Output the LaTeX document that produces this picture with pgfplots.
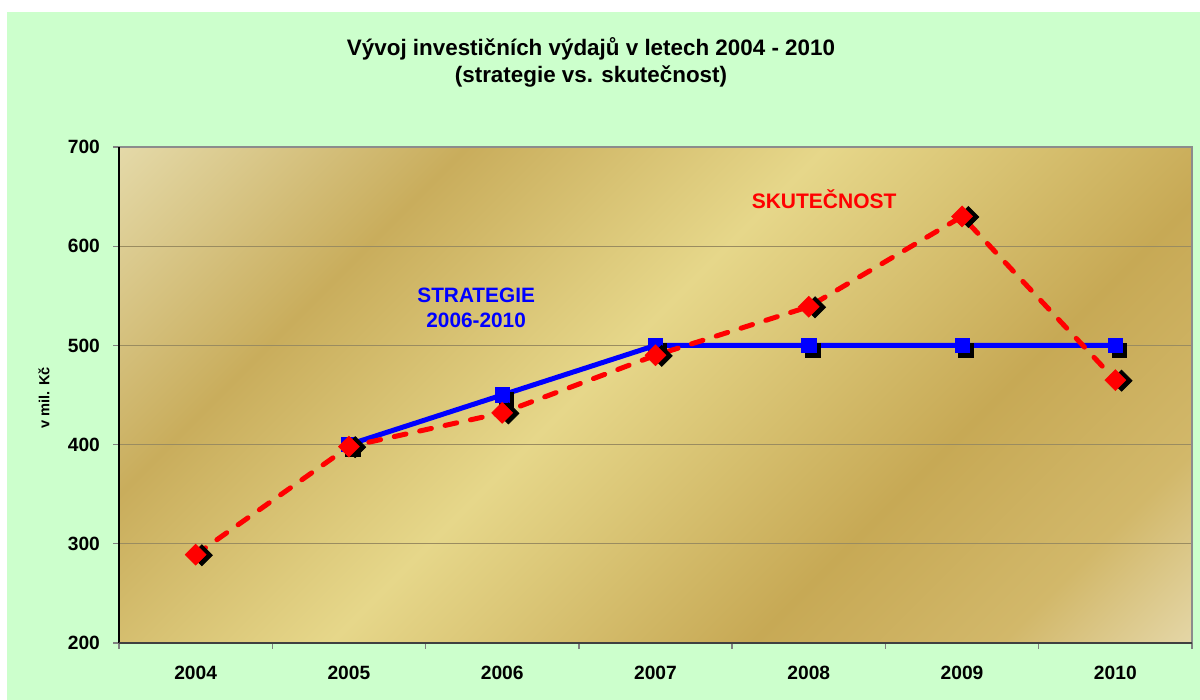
\documentclass[border=0pt]{standalone}
\usepackage{pgfplots}
\pgfplotsset{compat=1.18}
\usepackage{fontspec}
\setmainfont{Liberation Sans}
\definecolor{bggreen}{HTML}{CCFFCC}
\definecolor{gA}{HTML}{E4D9A8}
\definecolor{gB}{HTML}{C9AD5C}
\definecolor{gC}{HTML}{E6D78A}
\definecolor{gD}{HTML}{C7A955}
\definecolor{gE}{HTML}{D2B86A}
\definecolor{gF}{HTML}{E4D6A6}
\definecolor{gridc}{HTML}{9A8C60}
\pgfdeclarehorizontalshading{goldband}{100bp}{color(0bp)=(gA); color(14.6bp)=(gA); color(30.2bp)=(gB); color(46.5bp)=(gC); color(65.6bp)=(gD); color(76.9bp)=(gE); color(85.4bp)=(gF); color(100bp)=(gF)}

\pgfplotstableread{
x y
1 400
2 450
3 500
4 500
5 500
6 500
}\strategie
\pgfplotstableread{
x y
0 289
1 398
2 432
3 490
4 539
5 630
6 465
}\skutecnost

\begin{document}
\begin{tikzpicture}[x=0.5pt,y=0.5pt]
\fill[white] (0,0) rectangle (1200,700);
\fill[bggreen] (7,0) rectangle (1200,688);
\node[font=\fontsize{11.2}{13.5}\selectfont\bfseries, align=center] at (591,638) {Vývoj investičních výdajů v letech 2004 - 2010\\(strategie vs. skutečnost)};
\node[font=\fontsize{7.3}{9}\selectfont\bfseries, rotate=90] at (44,302) {v mil. Kč};
\begin{axis}[
  at={(59.5pt,28.5pt)}, anchor=south west,
  scale only axis, width=536.5pt, height=248pt,
  xmin=-0.5, xmax=6.5, ymin=200, ymax=700,
  xtick={0,...,6},
  xticklabels={2004,2005,2006,2007,2008,2009,2010},
  ytick={200,300,...,700},
  xtick pos=bottom, ytick pos=left,
  ymajorgrids,
  grid style={draw=gridc, line width=0.7pt},
  tick align=outside,
  major tick length=3pt,
  xtick style={draw=none},
  ytick style={draw=gray, line width=0.7pt},
  extra x ticks={-0.5,0.5,...,6.5},
  extra x tick labels={},
  extra x tick style={xtick style={draw=gray, line width=0.7pt}, grid=none},
  axis line style={draw=gray!90, line width=0.8pt},
  axis background/.style={shade, shading=goldband, shading angle=-45},
  /pgf/number format/assume math mode=true,
  ticklabel style={font=\fontsize{9.6}{11}\selectfont\bfseries},
  yticklabel style={xshift=-3pt},
  xticklabel style={yshift=-5pt},
  clip=false,
]
% strategie shadows
\addplot[only marks, mark=square*, mark size=3.6pt, black,
  every mark/.append style={xshift=2pt, yshift=-2.4pt}] table[x=x,y=y] {\strategie};
\addplot[blue, line width=2.5pt, mark=square*, mark size=3.6pt,
  mark options={solid, fill=blue, draw=blue, line width=0.3pt}] table[x=x,y=y] {\strategie};
% skutecnost shadows
\addplot[only marks, mark=square*, mark size=3.7pt, black,
  mark options={rotate=45},
  every mark/.append style={xshift=2pt, yshift=-2.4pt}] table[x=x,y=y] {\skutecnost};
\addplot[red, line width=2.5pt, line cap=round, dash pattern=on 6pt off 7pt,
  mark=square*, mark size=3.7pt,
  mark options={solid, rotate=45, fill=red, draw=red, line width=0.3pt}] table[x=x,y=y] {\skutecnost};
\draw[black, line width=1pt] (rel axis cs:0,1) -- (rel axis cs:0,0);
\draw[black!75, line width=1.4pt] (rel axis cs:0,0) -- (rel axis cs:1,0);
\node[blue, font=\fontsize{10.4}{12.5}\selectfont\bfseries, align=center] at (axis cs:1.83,538) {STRATEGIE\\2006-2010};
\node[red, font=\fontsize{10.5}{12.5}\selectfont\bfseries] at (axis cs:4.10,647) {SKUTEČNOST};
\end{axis}
\pgfresetboundingbox
\useasboundingbox (0,0) rectangle (1200,700);
\end{tikzpicture}
\end{document}
